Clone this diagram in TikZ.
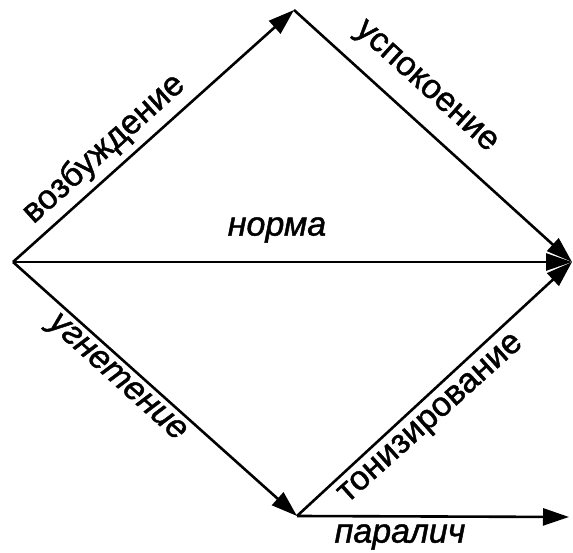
\documentclass[tikz,border=0pt]{standalone}
\usepackage{fontspec}
\setmainfont{Liberation Sans}
\newfontfamily\lblfont{Liberation Sans}[FakeBold=1.3]
\newfontfamily\ilblfont{Liberation Sans Italic}[FakeBold=1.3]
\usetikzlibrary{arrows.meta}
\begin{document}
\begin{tikzpicture}[x=1pt,y=1pt,
  conn/.style={line width=2.6pt,-{Triangle[length=26pt,width=17pt]}},
  lbl/.style={inner sep=0pt,font=\fontsize{34}{40}\lblfont},
  ilbl/.style={inner sep=0pt,font=\fontsize{34}{40}\ilblfont}]
\useasboundingbox (0,0) rectangle (573,553);
\coordinate (L) at (13,291);
\coordinate (T) at (294,543);
\coordinate (R) at (572,291);
\coordinate (B) at (297,37);
\coordinate (P) at (569,36);
\draw[conn] (L) -- (T);
\draw[conn] (T) -- (R);
\draw[conn] (L) -- (R);
\draw[conn] (L) -- (B);
\draw[conn] (B) -- (R);
\draw[conn] (B) -- (P);
\node[lbl,rotate=42] (vozb) at (104,404) {возбуждение};
\node[lbl,rotate=-42] (uspok) at (425,465) {успокоение};
\node[ilbl] (norma) at (277,323) {норма};
\node[ilbl,rotate=-42] (ugnet) at (116,174) {угнетение};
\node[lbl,rotate=42] (toniz) at (432,133) {тонизирование};
\node[ilbl] (paral) at (400,16) {паралич};
\end{tikzpicture}
\end{document}
